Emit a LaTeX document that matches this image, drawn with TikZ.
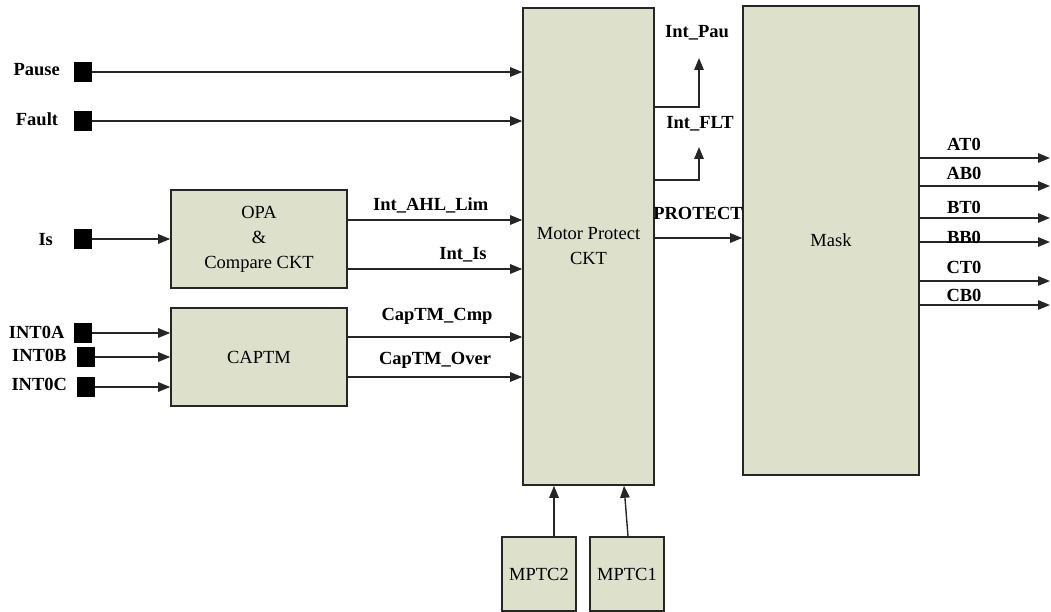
\documentclass[tikz,border=0pt]{standalone}
\usepackage{fontspec}
\setmainfont{Liberation Serif}
\usetikzlibrary{arrows.meta,positioning}

\definecolor{blockfill}{RGB}{221,224,203}
\tikzset{
  blk/.style={draw=black!85, fill=blockfill, line width=1.6pt, align=center, inner sep=0pt},
  pad/.style={fill=black, minimum width=18pt, minimum height=20pt, inner sep=0pt},
  sig/.style={line width=1.4pt, draw=black!85, -{Triangle[length=12pt,width=9.5pt]}},
  lbl/.style={font=\fontsize{18.5}{25}\selectfont\bfseries, inner sep=1pt},
}

\begin{document}
\begin{tikzpicture}[x=1pt,y=-1pt,font=\fontsize{18.5}{25}\selectfont]
\useasboundingbox (0,0) rectangle (1051,612);

% Blocks
\node[blk, minimum width=131pt, minimum height=477pt] (mpc) at (588.5,246.5) {Motor Protect\\CKT};
\node[blk, minimum width=176pt, minimum height=469pt] (mask) at (831,240.5) {Mask};
\node[blk, minimum width=176pt, minimum height=98pt] (opa) at (259,239) {OPA\\\&\\Compare CKT};
\node[blk, minimum width=176pt, minimum height=98pt] (captm) at (259,357) {CAPTM};
\node[blk, minimum width=74pt, minimum height=74pt] (mptc2) at (539,574) {MPTC2};
\node[blk, minimum width=74pt, minimum height=74pt] (mptc1) at (627,574) {MPTC1};

% Input pads
\node[pad] (pause) at (83,72) {};
\node[pad] (fault) at (83,121) {};
\node[pad] (is) at (83,239) {};
\node[pad] (inta) at (83,333) {};
\node[pad] (intb) at (85.5,357) {};
\node[pad] (intc) at (85.5,387) {};

\node[lbl] (pausetxt) at (36.7,70) {Pause};
\node[lbl] (faulttxt) at (37,119) {Fault};
\node[lbl] (istxt) at (45.7,240) {Is};
\node[lbl] (intatxt) at (36.7,332) {INT0A};
\node[lbl] (intbtxt) at (39.3,355) {INT0B};
\node[lbl] (intctxt) at (39.3,384) {INT0C};

% Inputs
\draw[sig] (pause.east) -- (pause.east -| mpc.west);
\draw[sig] (fault.east) -- (fault.east -| mpc.west);
\draw[sig] (is.east) -- (is.east -| opa.west);
\draw[sig] (inta.east) -- (inta.east -| captm.west);
\draw[sig] (intb.east) -- (intb.east -| captm.west);
\draw[sig] (intc.east) -- (intc.east -| captm.west);

% Into motor protect
\draw[sig] (opa.east |- 0,220) -- (mpc.west |- 0,220);
\draw[sig] (opa.east |- 0,269) -- (mpc.west |- 0,269);
\draw[sig] (captm.east |- 0,337) -- (mpc.west |- 0,337);
\draw[sig] (captm.east |- 0,377) -- (mpc.west |- 0,377);
\node[lbl] (ahl) at (430.7,205) {Int\_AHL\_Lim};
\node[lbl] (ints) at (463,255) {Int\_Is};
\node[lbl] (cmp) at (437,316) {CapTM\_Cmp};
\node[lbl] (over) at (435,360) {CapTM\_Over};

% Interrupt outputs
\coordinate (pauout) at (699,58);
\coordinate (fltout) at (699,147);
\draw[sig] (mpc.east |- 0,107) -| (pauout);
\draw[sig] (mpc.east |- 0,180) -| (fltout);
\node[lbl] (pautxt) at (697,33) {Int\_Pau};
\node[lbl] (flttxt) at (700,124) {Int\_FLT};

% Protect
\draw[sig] (mpc.east |- 0,238) -- (mask.west |- 0,238);
\node[lbl] (prot) at (698,213) {PROTECT};

% Mask outputs
\foreach \y/\t/\ly in {158/AT0/144, 186/AB0/173, 218/BT0/207, 242/BB0/237, 281/CT0/267, 305/CB0/295} {
  \coordinate (o\t) at (1050,\y);
  \draw[sig] (mask.east |- o\t) -- (o\t);
  \node[lbl] (t\t) at (964,\ly) {\t};
}

% Config inputs
\draw[sig] ([xshift=15pt]mptc2.north) -- ([xshift=15pt]mptc2.north |- mpc.south);
\draw[sig] ([xshift=1pt]mptc1.north) -- ([xshift=-3pt]mptc1.north |- mpc.south);
\end{tikzpicture}
\end{document}
